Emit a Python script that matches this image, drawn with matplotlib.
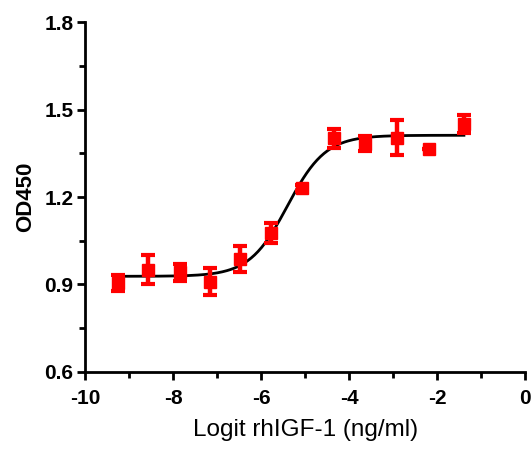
import matplotlib
matplotlib.use("Agg")
import matplotlib.pyplot as plt
import numpy as np
from matplotlib.ticker import MultipleLocator, FormatStrFormatter

plt.rcParams['font.family'] = ['Liberation Sans', 'DejaVu Sans']
plt.rcParams['axes.unicode_minus'] = False

# data
log_conc = [-9.25, -8.57, -7.84, -7.16, -6.48, -5.77, -5.07, -4.35, -3.64, -2.92, -2.18, -1.39]
od450 = [0.905, 0.950, 0.942, 0.910, 0.988, 1.076, 1.231, 1.402, 1.383, 1.403, 1.364, 1.450]
od_err = [0.028, 0.050, 0.030, 0.047, 0.045, 0.034, 0.010, 0.032, 0.025, 0.060, 0.000, 0.030]

# 4PL fit parameters
bottom, top, log_ec50, hill = 0.928, 1.412, -5.40, 1.0

fig = plt.figure(figsize=(5.32, 4.53), dpi=100)
ax = fig.add_axes([0.16, 0.179, 0.827, 0.772])

xfit = np.linspace(min(log_conc), max(log_conc), 300)
yfit = bottom + (top - bottom) / (1 + 10 ** ((log_ec50 - xfit) * hill))
ax.plot(xfit, yfit, color='black', lw=2, zorder=2)

ax.errorbar(log_conc, od450, yerr=od_err, fmt='s', color='#ff0000', ms=9,
            ecolor='#ff0000', elinewidth=3.2, capsize=5, capthick=3, zorder=3)

ax.set_xlim(-10, 0)
ax.set_ylim(0.6, 1.8)
ax.xaxis.set_major_locator(MultipleLocator(2))
ax.xaxis.set_minor_locator(MultipleLocator(1))
ax.yaxis.set_major_locator(MultipleLocator(0.3))
ax.yaxis.set_minor_locator(MultipleLocator(0.15))
ax.yaxis.set_major_formatter(FormatStrFormatter('%.1f'))

for s in ['top', 'right']:
    ax.spines[s].set_visible(False)
for s in ['left', 'bottom']:
    ax.spines[s].set_linewidth(2)
ax.tick_params(which='major', length=5.5, width=2, labelsize=15)
ax.tick_params(which='minor', length=4, width=2)
ax.tick_params(axis='x', which='major', pad=7)
ax.tick_params(axis='y', which='major', pad=3)
for lab in ax.get_xticklabels() + ax.get_yticklabels():
    lab.set_fontweight('bold')

ax.set_xlabel("Logit rhIGF-1 (ng/ml)", fontsize=17.5, labelpad=8)
ax.set_ylabel("OD450", fontsize=16, fontweight='bold', labelpad=6)

fig.savefig("out.png", dpi=100)
